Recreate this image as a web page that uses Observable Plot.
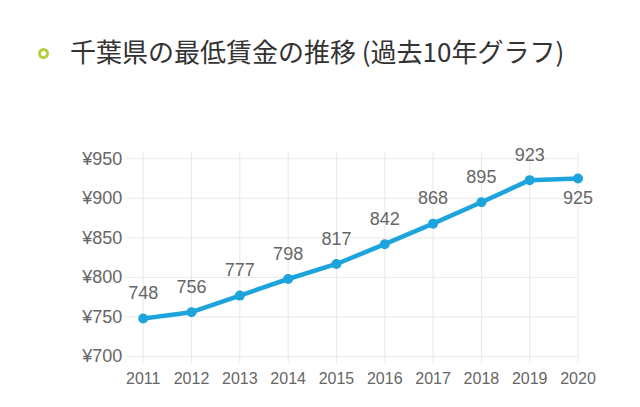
<!DOCTYPE html>
<html>
<head>
<meta charset="utf-8">
<script src="https://cdn.jsdelivr.net/npm/d3@7"></script>
<script src="https://cdn.jsdelivr.net/npm/@observablehq/plot@0.6"></script>
<style>
  html, body { margin: 0; padding: 0; background: #fff; }
  body { width: 640px; height: 407px; position: relative; overflow: hidden; }
  #dot { position: absolute; left: 38px; top: 48px; width: 11px; height: 11px; box-sizing: border-box;
         border: 3px solid #b5cf40; border-radius: 50%; }
  #title { position: absolute; left: 70px; top: 38px; font-family: "Noto Sans CJK JP", sans-serif;
           font-size: 26px; line-height: 26px; color: #333; white-space: nowrap; }
  #chart { position: absolute; left: 0; top: 148px; width: 640px; height: 259px; }
</style>
</head>
<body>
<div id="dot"></div>
<div id="title">千葉県の最低賃金の推移 (過去10年グラフ)</div>
<div id="chart"></div>
<script>
const years = [2011, 2012, 2013, 2014, 2015, 2016, 2017, 2018, 2019, 2020];
const wages = [748, 756, 777, 798, 817, 842, 868, 895, 923, 925];
const yTicks = [700, 750, 800, 850, 900, 950];

const data = years.map((year, i) => ({year, wage: wages[i]}));
const n = data.length;
const blue = "#1ea4dc";
const grid = "#e9e9e9";
const font = "Liberation Sans, Arial, sans-serif";

const chart = Plot.plot({
  width: 640,
  height: 259,
  marginLeft: 142.7,
  marginRight: 62.5,
  marginTop: 10.3,
  marginBottom: 51,
  style: {fontFamily: font, background: "transparent", overflow: "visible"},
  x: {domain: [2011, 2020], axis: null, label: null},
  y: {domain: [700, 950], axis: null, label: null},
  marks: [
    Plot.ruleY(yTicks, {stroke: grid, strokeWidth: 1, insetLeft: -16}),
    Plot.ruleX(years, {stroke: grid, strokeWidth: 1, insetTop: -6.5, insetBottom: -7}),
    Plot.axisY({ticks: yTicks, tickFormat: d => "¥" + d, tickSize: 0, tickPadding: 21,
                fontSize: 18, fill: "#666", anchor: "left", label: null}),
    Plot.axisX({ticks: years, tickFormat: d => String(d), tickSize: 0, tickPadding: 16.6,
                fontSize: 16, fill: "#666", anchor: "bottom", label: null}),
    Plot.line(data, {x: "year", y: "wage", stroke: blue, strokeWidth: 4.5, strokeLinejoin: "round"}),
    Plot.dot(data, {x: "year", y: "wage", r: 5, fill: blue, stroke: "none"}),
    Plot.text(data, {filter: (d, i) => i < n - 1, x: "year", y: "wage", text: d => String(d.wage),
                     dy: -25, fontSize: 18, fill: "#666", lineAnchor: "middle"}),
    Plot.text(data, {filter: (d, i) => i === n - 1, x: "year", y: "wage", text: d => String(d.wage),
                     dy: 20, fontSize: 18, fill: "#666", lineAnchor: "middle"})
  ]
});
document.getElementById("chart").appendChild(chart);
</script>
</body>
</html>
